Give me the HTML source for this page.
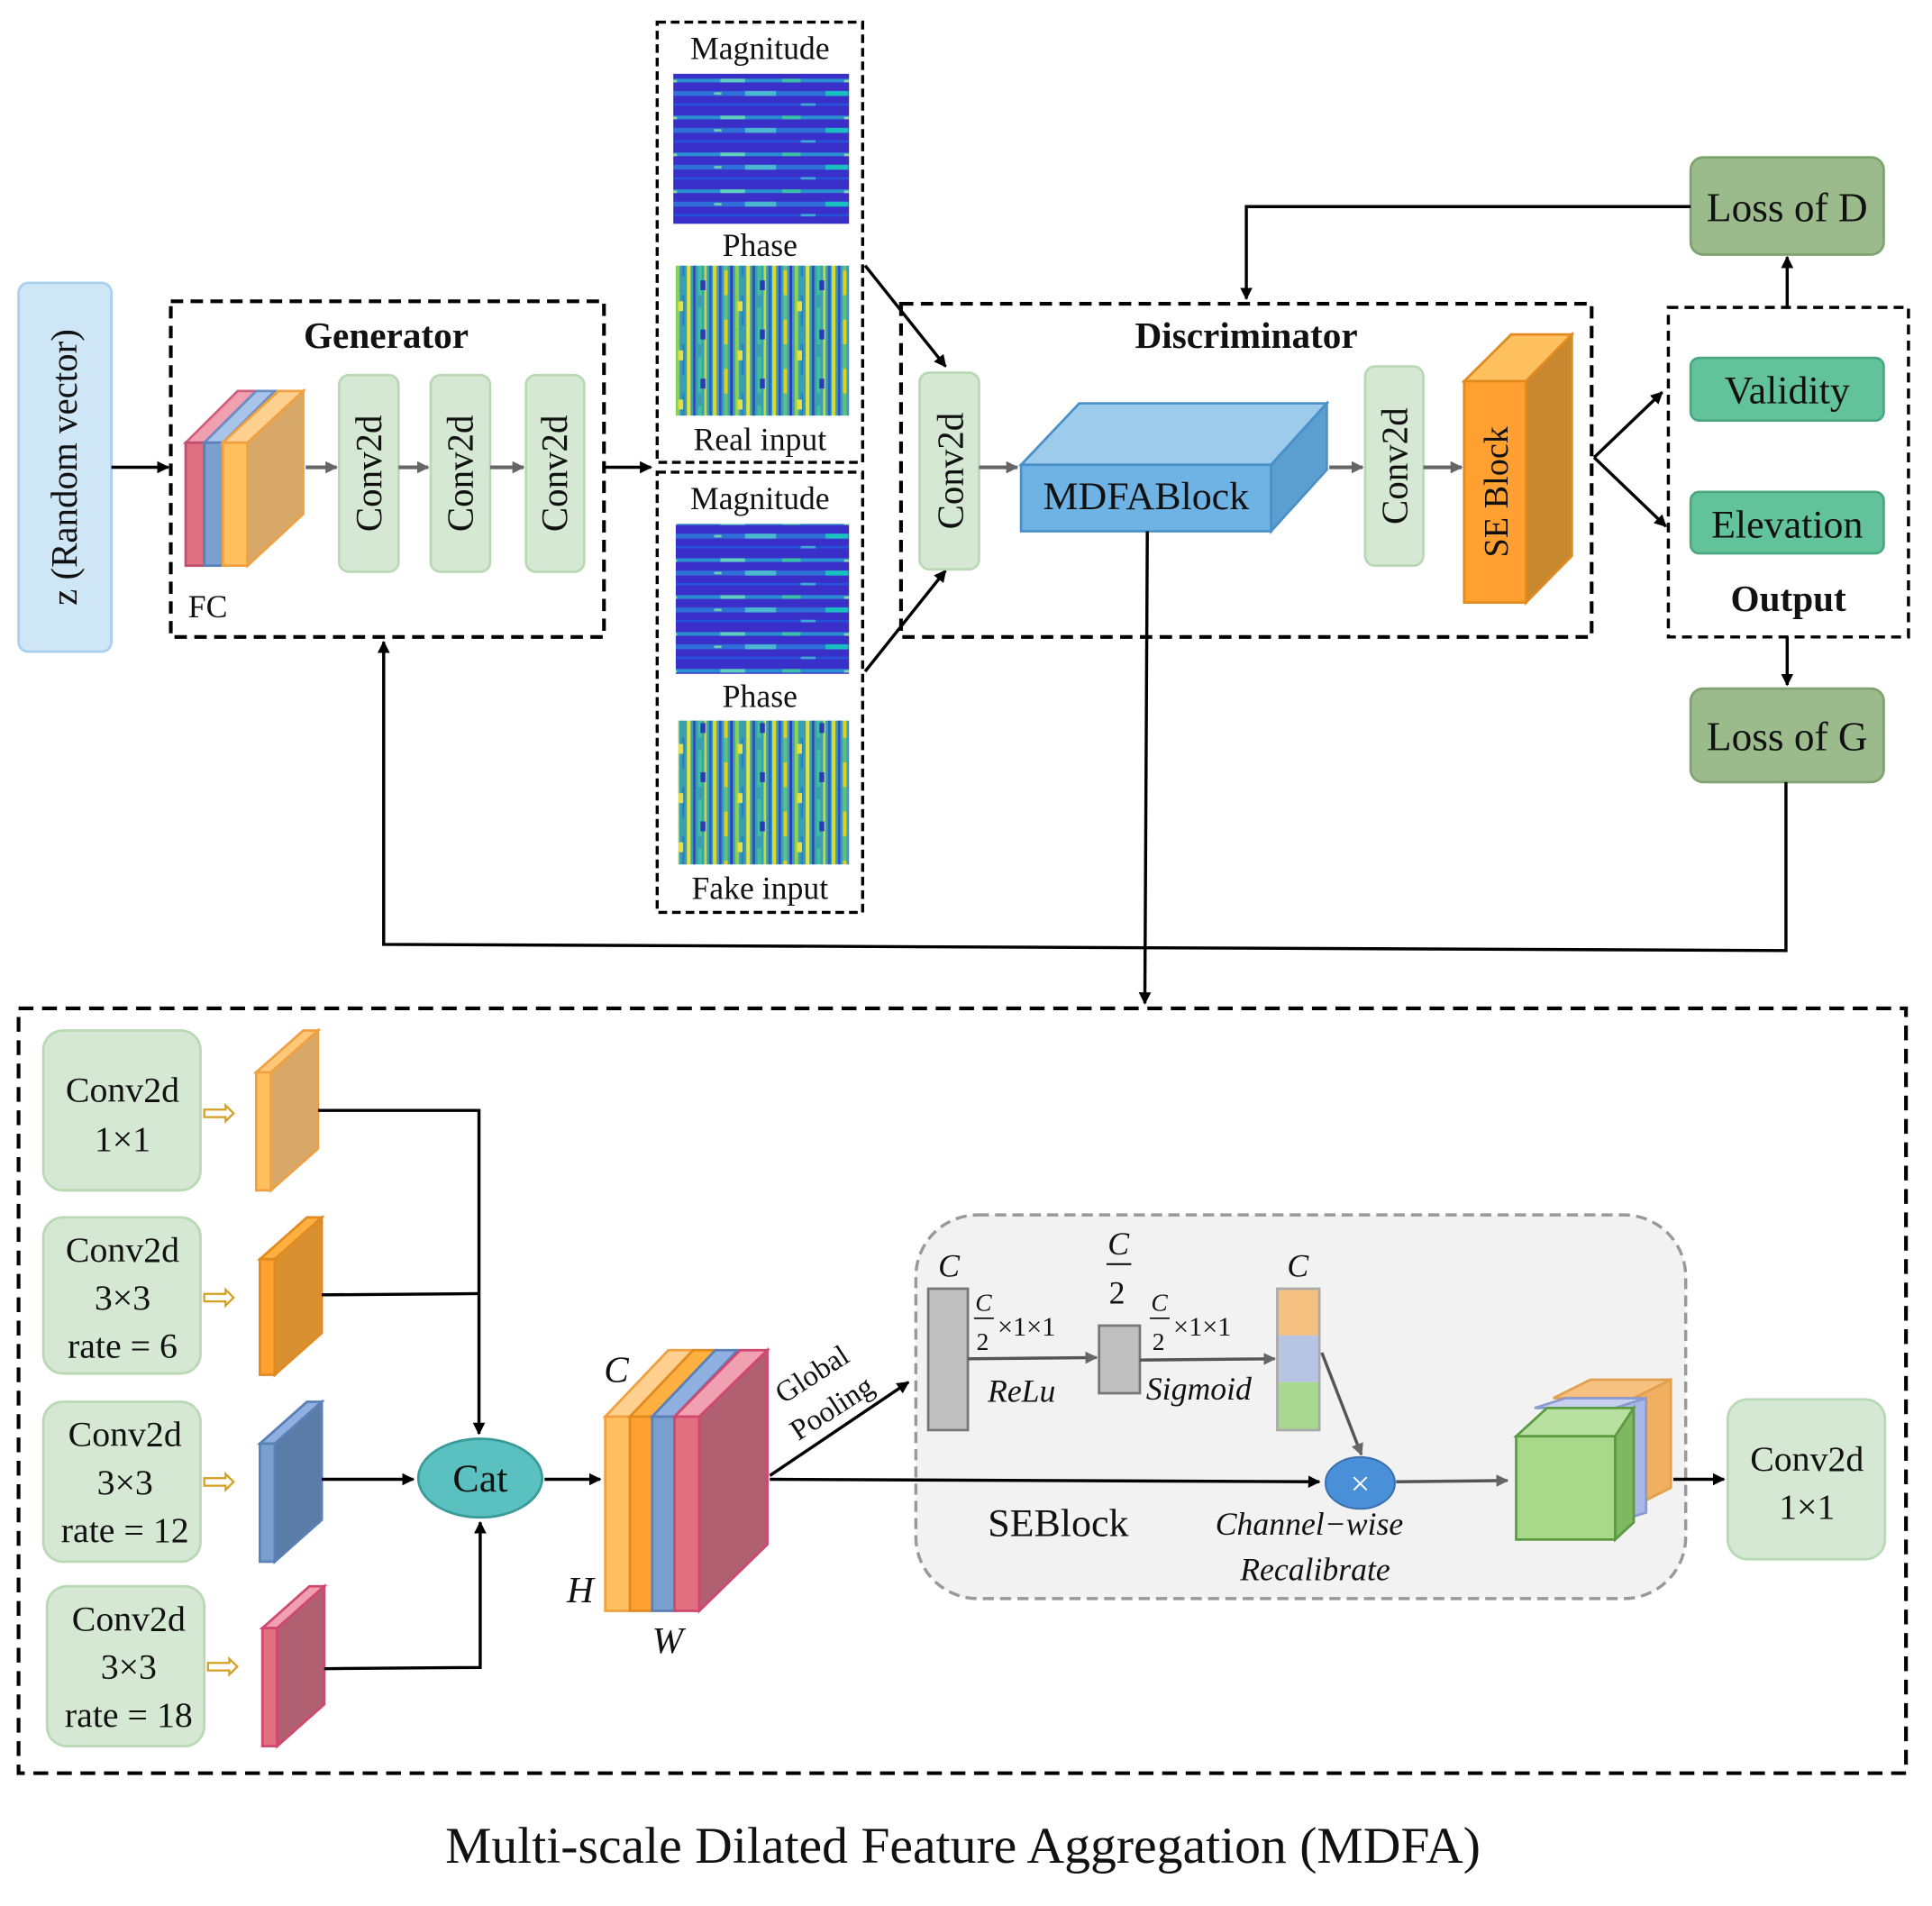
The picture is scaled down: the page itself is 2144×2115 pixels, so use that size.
<!DOCTYPE html>
<html><head><meta charset="utf-8"><style>
html,body{margin:0;padding:0;background:#fff;}
svg{display:block;}
text{font-family:"Liberation Serif",serif;fill:#111;}
</style></head><body>
<svg width="2144" height="2115" viewBox="0 0 1561 1550" preserveAspectRatio="none" xmlns="http://www.w3.org/2000/svg">
<defs>
<marker id="ar" markerWidth="10" markerHeight="10" refX="9" refY="5" orient="auto" markerUnits="userSpaceOnUse"><path d="M0,0 L10,5 L0,10 z" fill="#000"/></marker>
<marker id="ag" markerWidth="10" markerHeight="10" refX="9" refY="5" orient="auto" markerUnits="userSpaceOnUse"><path d="M0,0 L10,5 L0,10 z" fill="#666"/></marker>
<pattern id="mag" patternUnits="userSpaceOnUse" width="143" height="30">
<rect width="143" height="30" fill="#3a2fc8"/>
<rect y="4" width="143" height="3" fill="#2a8fd0"/>
<rect x="10" y="4" width="20" height="3" fill="#5fd0c0"/>
<rect x="60" y="4" width="15" height="3" fill="#39c0a8"/>
<rect x="110" y="5" width="8" height="2" fill="#8ad8a0"/>
<rect y="14" width="143" height="4" fill="#2f6fd8"/>
<rect x="30" y="14" width="25" height="4" fill="#4ab8d0"/>
<rect x="95" y="14" width="18" height="4" fill="#1ac0c0"/>
<rect x="5" y="15" width="6" height="2" fill="#70d0b0"/>
<rect y="24" width="143" height="2" fill="#2550d8"/>
<rect x="75" y="24" width="12" height="2" fill="#40a8d8"/>
</pattern>
<pattern id="ph" patternUnits="userSpaceOnUse" width="48" height="40">
<rect width="48" height="40" fill="#3aa0b0"/>
<rect x="0" width="3" height="40" fill="#d8d830"/>
<rect x="5" width="2" height="40" fill="#3050c8"/>
<rect x="9" width="3" height="20" fill="#60c080"/>
<rect x="9" y="20" width="3" height="20" fill="#e0d020"/>
<rect x="14" width="2" height="40" fill="#2a3ab8"/>
<rect x="18" width="3" height="40" fill="#90d050"/>
<rect x="23" width="2" height="25" fill="#2880c8"/>
<rect x="27" width="3" height="40" fill="#e8e040"/>
<rect x="32" width="2" height="40" fill="#3848c0"/>
<rect x="36" y="10" width="3" height="30" fill="#40c0a0"/>
<rect x="41" width="2" height="40" fill="#c8d838"/>
<rect x="45" width="2" height="40" fill="#2d60c8"/>
<rect x="20" y="5" width="4" height="8" fill="#e8e040"/>
<rect x="38" y="28" width="4" height="8" fill="#2a3ab8"/>
</pattern>
</defs>

<rect x="15" y="230" width="75" height="300" rx="8" fill="#cfe6f7" stroke="#a8d0f0" stroke-width="2"/>
<text x="0" y="0" font-size="30" text-anchor="middle" transform="translate(62,380) rotate(-90)">z (Random vector)</text>
<line x1="90" y1="380" x2="136" y2="380" stroke="#000" stroke-width="2.5" marker-end="url(#ar)"/>

<rect x="138" y="245" width="350" height="273" fill="none" stroke="#000" stroke-width="3" stroke-dasharray="10,6"/>
<text x="312" y="283" font-size="30" font-weight="bold" text-anchor="middle">Generator</text>
<g stroke-width="2">
<polygon points="150,360 165,360 207,318 192,318" fill="#f0a0b0" stroke="#d06080"/>
<rect x="150" y="360" width="15" height="100" fill="#e07080" stroke="#c05070"/>
<polygon points="165,360 180,360 222,318 207,318" fill="#a8c4e8" stroke="#6a8cc0"/>
<rect x="165" y="360" width="15" height="100" fill="#7aa0d0" stroke="#5a80b8"/>
<polygon points="180,360 200,360 245,318 225,318" fill="#ffd090" stroke="#f0a040"/>
<rect x="180" y="360" width="20" height="100" fill="#ffc060" stroke="#f0a040"/>
<polygon points="200,360 245,318 245,418 200,460" fill="#d8a868" stroke="#f0a040"/>
</g>
<text x="152" y="502" font-size="26">FC</text>
<g fill="#d5e8d4" stroke="#b9d9b5" stroke-width="2">
<rect x="274" y="305" width="48" height="160" rx="8"/>
<rect x="348" y="305" width="48" height="160" rx="8"/>
<rect x="425" y="305" width="47" height="160" rx="8"/>
</g>
<g font-size="30" text-anchor="middle">
<text transform="translate(308,385) rotate(-90)">Conv2d</text>
<text transform="translate(382,385) rotate(-90)">Conv2d</text>
<text transform="translate(458,385) rotate(-90)">Conv2d</text>
</g>
<g stroke="#666" stroke-width="3">
<line x1="247" y1="380" x2="272" y2="380" marker-end="url(#ag)"/>
<line x1="322" y1="380" x2="346" y2="380" marker-end="url(#ag)"/>
<line x1="396" y1="380" x2="423" y2="380" marker-end="url(#ag)"/>
</g>
<line x1="488" y1="380" x2="526" y2="380" stroke="#000" stroke-width="2.5" marker-end="url(#ar)"/>

<rect x="531" y="18" width="166" height="358" fill="none" stroke="#000" stroke-width="2.5" stroke-dasharray="7,4"/>
<text x="614" y="48" font-size="26" text-anchor="middle">Magnitude</text>
<rect x="544" y="60" width="142" height="122" fill="url(#mag)"/>
<text x="614" y="208" font-size="26" text-anchor="middle">Phase</text>
<rect x="546" y="216" width="140" height="122" fill="url(#ph)"/>
<text x="614" y="366" font-size="26" text-anchor="middle">Real input</text>
<rect x="531" y="384" width="166" height="358" fill="none" stroke="#000" stroke-width="2.5" stroke-dasharray="7,4"/>
<text x="614" y="414" font-size="26" text-anchor="middle">Magnitude</text>
<rect x="546" y="426" width="140" height="122" fill="url(#mag)"/>
<text x="614" y="575" font-size="26" text-anchor="middle">Phase</text>
<rect x="548" y="586" width="138" height="117" fill="url(#ph)"/>
<text x="614" y="731" font-size="26" text-anchor="middle">Fake input</text>
<line x1="699" y1="216" x2="764" y2="298" stroke="#000" stroke-width="2.5" marker-end="url(#ar)"/>
<line x1="699" y1="546" x2="764" y2="464" stroke="#000" stroke-width="2.5" marker-end="url(#ar)"/>

<rect x="728" y="247" width="558" height="271" fill="none" stroke="#000" stroke-width="3" stroke-dasharray="10,6"/>
<text x="1007" y="283" font-size="30" font-weight="bold" text-anchor="middle">Discriminator</text>
<rect x="743" y="303" width="48" height="160" rx="8" fill="#d5e8d4" stroke="#b9d9b5" stroke-width="2"/>
<text transform="translate(778,383) rotate(-90)" font-size="30" text-anchor="middle">Conv2d</text>
<line x1="791" y1="380" x2="822" y2="380" stroke="#666" stroke-width="3" marker-end="url(#ag)"/>
<polygon points="825,378 872,328 1072,328 1027,378" fill="#9ccbec" stroke="#4a90c8" stroke-width="2"/>
<polygon points="1027,378 1072,328 1072,382 1027,432" fill="#5a9fd0" stroke="#4a90c8" stroke-width="2"/>
<rect x="825" y="378" width="202" height="54" fill="#6fb3e4" stroke="#4a90c8" stroke-width="2"/>
<text x="926" y="414" font-size="32" text-anchor="middle" font-family="Liberation Sans">MDFABlock</text>
<line x1="1074" y1="380" x2="1101" y2="380" stroke="#666" stroke-width="3" marker-end="url(#ag)"/>
<rect x="1103" y="298" width="47" height="162" rx="8" fill="#d5e8d4" stroke="#b9d9b5" stroke-width="2"/>
<text transform="translate(1137,379) rotate(-90)" font-size="30" text-anchor="middle">Conv2d</text>
<line x1="1150" y1="380" x2="1181" y2="380" stroke="#666" stroke-width="3" marker-end="url(#ag)"/>
<polygon points="1183,310 1221,272 1270,272 1233,310" fill="#ffc060" stroke="#e08a20" stroke-width="2"/>
<polygon points="1233,310 1270,272 1270,452 1233,490" fill="#c88830" stroke="#e08a20" stroke-width="2"/>
<rect x="1183" y="310" width="50" height="180" fill="#ffa030" stroke="#e08a20" stroke-width="2"/>
<text transform="translate(1218,400) rotate(-90)" font-size="28" text-anchor="middle">SE Block</text>
<line x1="1288" y1="372" x2="1343" y2="319" stroke="#000" stroke-width="2.5" marker-end="url(#ar)"/>
<line x1="1288" y1="372" x2="1346" y2="428" stroke="#000" stroke-width="2.5" marker-end="url(#ar)"/>

<rect x="1348" y="250" width="194" height="268" fill="none" stroke="#000" stroke-width="2.5" stroke-dasharray="8,5"/>
<rect x="1366" y="291" width="156" height="51" rx="7" fill="#62c29a" stroke="#4aa880" stroke-width="2"/>
<text x="1444" y="328" font-size="32" text-anchor="middle">Validity</text>
<rect x="1366" y="400" width="156" height="50" rx="7" fill="#62c29a" stroke="#4aa880" stroke-width="2"/>
<text x="1444" y="437" font-size="32" text-anchor="middle">Elevation</text>
<text x="1445" y="497" font-size="30" font-weight="bold" text-anchor="middle">Output</text>
<rect x="1366" y="128" width="156" height="79" rx="10" fill="#9bbb8d" stroke="#7fa36f" stroke-width="2"/>
<text x="1444" y="180" font-size="33" text-anchor="middle">Loss of D</text>
<rect x="1366" y="560" width="156" height="76" rx="10" fill="#9bbb8d" stroke="#7fa36f" stroke-width="2"/>
<text x="1444" y="610" font-size="33" text-anchor="middle">Loss of G</text>
<line x1="1444" y1="250" x2="1444" y2="209" stroke="#000" stroke-width="2.5" marker-end="url(#ar)"/>
<polyline points="1366,168 1007,168 1007,243" fill="none" stroke="#000" stroke-width="2.5" marker-end="url(#ar)"/>
<line x1="1444" y1="518" x2="1444" y2="557" stroke="#000" stroke-width="2.5" marker-end="url(#ar)"/>
<polyline points="1443,636 1443,773 310,768 310,522" fill="none" stroke="#000" stroke-width="2.5" marker-end="url(#ar)"/>
<line x1="927" y1="432" x2="925" y2="816" stroke="#000" stroke-width="2.5" marker-end="url(#ar)"/>

<rect x="15" y="820" width="1525" height="622" fill="none" stroke="#000" stroke-width="3" stroke-dasharray="12,7"/>
<g fill="#d5e8d4" stroke="#b9d9b5" stroke-width="2">
<rect x="35" y="838" width="127" height="130" rx="16"/>
<rect x="35" y="990" width="127" height="127" rx="16"/>
<rect x="35" y="1140" width="127" height="130" rx="16"/>
<rect x="38" y="1290" width="127" height="130" rx="16"/>
<rect x="1396" y="1138" width="127" height="130" rx="16"/>
</g>
<g font-size="29" text-anchor="middle">
<text x="99" y="896">Conv2d</text><text x="99" y="936">1×1</text>
<text x="99" y="1026">Conv2d</text><text x="99" y="1065">3×3</text><text x="99" y="1104">rate = 6</text>
<text x="101" y="1176">Conv2d</text><text x="101" y="1215">3×3</text><text x="101" y="1254">rate = 12</text>
<text x="104" y="1326">Conv2d</text><text x="104" y="1365">3×3</text><text x="104" y="1404">rate = 18</text>
<text x="1460" y="1196">Conv2d</text><text x="1460" y="1235">1×1</text>
</g>
<g font-size="34" font-family="DejaVu Sans">
<text x="163" y="916" style="fill:#d4a020">⇨</text>
<text x="163" y="1066" style="fill:#d4a020">⇨</text>
<text x="163" y="1216" style="fill:#d4a020">⇨</text>
<text x="166" y="1366" style="fill:#d4a020">⇨</text>
</g>
<g stroke-width="2">
<polygon points="207,872 219,872 257,838 245,838" fill="#ffc878" stroke="#f0a040"/>
<rect x="207" y="872" width="12" height="96" fill="#ffc060" stroke="#f0a040"/>
<polygon points="219,872 257,838 257,934 219,968" fill="#d8a868" stroke="#f0a040"/>
<polygon points="210,1024 222,1024 260,990 248,990" fill="#ffb040" stroke="#e08a20"/>
<rect x="210" y="1024" width="12" height="94" fill="#ffa030" stroke="#e08a20"/>
<polygon points="222,1024 260,990 260,1084 222,1118" fill="#d89030" stroke="#e08a20"/>
<polygon points="210,1174 222,1174 260,1140 248,1140" fill="#8fb0e0" stroke="#5a80b8"/>
<rect x="210" y="1174" width="12" height="96" fill="#7aa0d0" stroke="#5a80b8"/>
<polygon points="222,1174 260,1140 260,1236 222,1270" fill="#5c7ca8" stroke="#5a80b8"/>
<polygon points="212,1324 224,1324 262,1290 250,1290" fill="#f0a0b0" stroke="#d04870"/>
<rect x="212" y="1324" width="12" height="96" fill="#e07080" stroke="#d04870"/>
<polygon points="224,1324 262,1290 262,1386 224,1420" fill="#b06070" stroke="#d04870"/>
</g>
<g stroke="#000" stroke-width="2.5" fill="none">
<polyline points="257,903 387,903 387,1166" marker-end="url(#ar)"/>
<line x1="260" y1="1053" x2="387" y2="1052"/>
<line x1="260" y1="1203" x2="334" y2="1203" marker-end="url(#ar)"/>
<polyline points="262,1357 388,1356 388,1238" marker-end="url(#ar)"/>
<line x1="440" y1="1203" x2="485" y2="1203" marker-end="url(#ar)"/>
</g>
<ellipse cx="388" cy="1202" rx="50" ry="32" fill="#5bc0c0" stroke="#3a9a9a" stroke-width="2"/>
<text x="388" y="1213" font-size="32" text-anchor="middle">Cat</text>
<g stroke-width="2">
<polygon points="489,1152 509,1152 560,1098 540,1098" fill="#ffd090" stroke="#f0a040"/>
<rect x="489" y="1152" width="20" height="158" fill="#ffc060" stroke="#f0a040"/>
<polygon points="509,1152 527,1152 578,1098 560,1098" fill="#ffb040" stroke="#e08a20"/>
<rect x="509" y="1152" width="18" height="158" fill="#ffa030" stroke="#e08a20"/>
<polygon points="527,1152 545,1152 596,1098 578,1098" fill="#8fb0e0" stroke="#5a80b8"/>
<rect x="527" y="1152" width="18" height="158" fill="#7aa0d0" stroke="#5a80b8"/>
<polygon points="545,1152 565,1152 620,1098 598,1098" fill="#f0a0b0" stroke="#d04870"/>
<rect x="545" y="1152" width="20" height="158" fill="#e07080" stroke="#d04870"/>
<polygon points="565,1152 620,1098 620,1256 565,1310" fill="#b06070" stroke="#d04870"/>
</g>
<g font-size="30" font-style="italic">
<text x="488" y="1124">C</text><text x="458" y="1303">H</text><text x="527" y="1344">W</text>
</g>
<text transform="translate(633,1142) rotate(-33)" font-size="24">Global</text>
<text transform="translate(645,1172) rotate(-33)" font-size="24">Pooling</text>
<line x1="622" y1="1200" x2="734" y2="1124" stroke="#000" stroke-width="2.5" marker-end="url(#ar)"/>
<rect x="740" y="988" width="622" height="312" rx="50" fill="#f2f2f2" stroke="#999" stroke-width="2.5" stroke-dasharray="9,5"/>
<line x1="622" y1="1203" x2="1066" y2="1205" stroke="#000" stroke-width="2.5" marker-end="url(#ar)"/>
<rect x="750" y="1048" width="32" height="115" fill="#bfbfbf" stroke="#777" stroke-width="2"/>
<rect x="888" y="1078" width="33" height="55" fill="#bfbfbf" stroke="#777" stroke-width="2"/>
<rect x="1032" y="1048" width="34" height="38" fill="#f5c080"/>
<rect x="1032" y="1086" width="34" height="38" fill="#b8c4e4"/>
<rect x="1032" y="1124" width="34" height="39" fill="#a8d890"/>
<rect x="1032" y="1048" width="34" height="115" fill="none" stroke="#aaa" stroke-width="2"/>
<line x1="782" y1="1105" x2="886" y2="1104" stroke="#555" stroke-width="2.5" marker-end="url(#ag)"/>
<line x1="921" y1="1106" x2="1030" y2="1105" stroke="#555" stroke-width="2.5" marker-end="url(#ag)"/>
<g font-size="26" font-style="italic">
<text x="758" y="1038">C</text>
<text x="895" y="1020">C</text><line x1="894" y1="1028" x2="914" y2="1028" stroke="#000" stroke-width="1.5"/><text x="896" y="1060" font-style="normal">2</text>
<text x="1040" y="1038">C</text>
<text x="788" y="1066" font-size="20">C</text><line x1="787" y1="1072" x2="803" y2="1072" stroke="#000" stroke-width="1.2"/><text x="789" y="1098" font-size="20" font-style="normal">2</text>
<text x="806" y="1086" font-size="22" font-style="normal">×1×1</text>
<text x="930" y="1066" font-size="20">C</text><line x1="929" y1="1072" x2="945" y2="1072" stroke="#000" stroke-width="1.2"/><text x="931" y="1098" font-size="20" font-style="normal">2</text>
<text x="948" y="1086" font-size="22" font-style="normal">×1×1</text>
<text x="798" y="1140">ReLu</text>
<text x="926" y="1138">Sigmoid</text>
<text x="982" y="1248">Channel−wise</text>
<text x="1002" y="1285">Recalibrate</text>
</g>
<line x1="1068" y1="1100" x2="1100" y2="1183" stroke="#555" stroke-width="2.5" marker-end="url(#ag)"/>
<ellipse cx="1099" cy="1206" rx="28" ry="21" fill="#4a90d8" stroke="#3a70b0" stroke-width="1.5"/>
<text x="1099" y="1216" font-size="28" text-anchor="middle" style="fill:#fff" font-family="DejaVu Sans">×</text>
<text x="855" y="1249" font-size="32" text-anchor="middle">SEBlock</text>
<line x1="1128" y1="1205" x2="1218" y2="1204" stroke="#555" stroke-width="2.5" marker-end="url(#ag)"/>
<g stroke-width="2">
<polygon points="1255,1137 1285,1122 1350,1122 1320,1137" fill="#f5c080" stroke="#e0a050"/>
<polygon points="1320,1137 1350,1122 1350,1210 1320,1225" fill="#f0b060" stroke="#e0a050"/>
<polygon points="1240,1145 1265,1137 1330,1137 1305,1145" fill="#c8d0f0" stroke="#8a9ad0"/>
<polygon points="1305,1145 1330,1137 1330,1230 1305,1238" fill="#a8b8e8" stroke="#8a9ad0"/>
<polygon points="1225,1168 1250,1145 1320,1145 1305,1168" fill="#b8e0a0" stroke="#5a9a40"/>
<polygon points="1305,1168 1320,1145 1320,1238 1305,1252" fill="#80b860" stroke="#5a9a40"/>
<rect x="1225" y="1168" width="80" height="84" fill="#a8d88a" stroke="#5a9a40"/>
</g>
<line x1="1352" y1="1203" x2="1393" y2="1203" stroke="#000" stroke-width="2.5" marker-end="url(#ar)"/>

<text x="778" y="1515" font-size="42" text-anchor="middle">Multi-scale Dilated Feature Aggregation (MDFA)</text>
</svg>
</body></html>
